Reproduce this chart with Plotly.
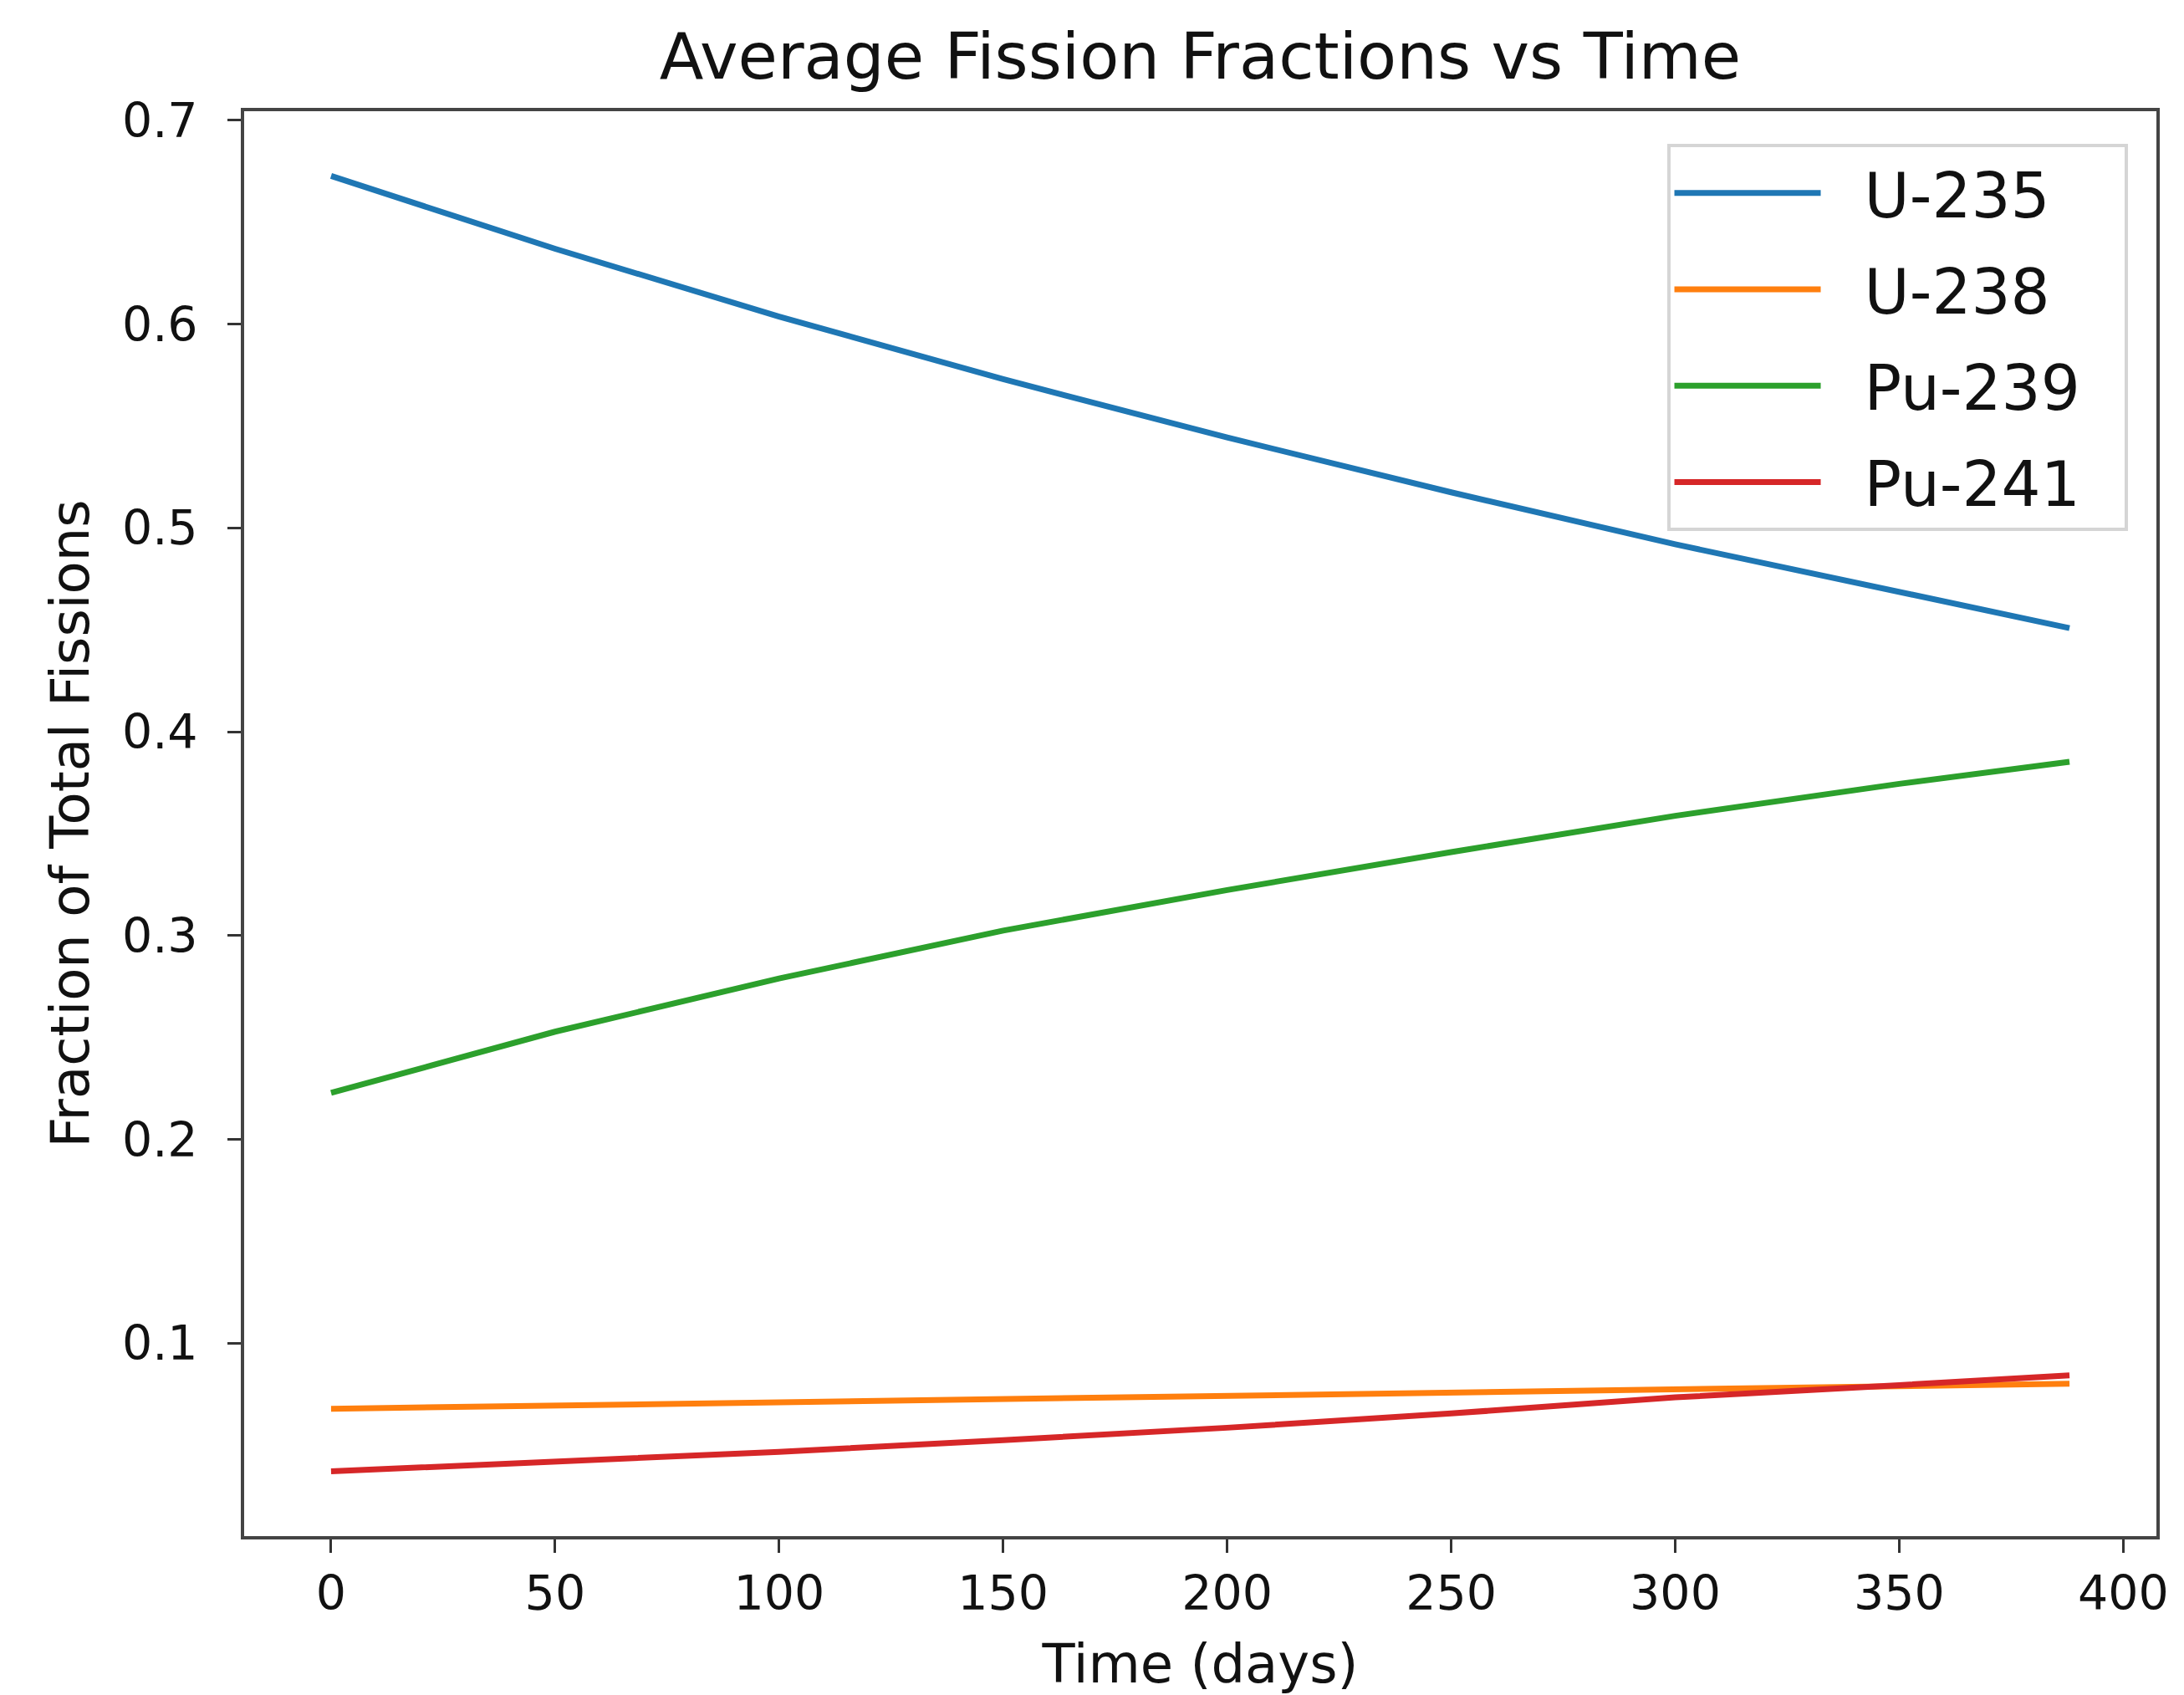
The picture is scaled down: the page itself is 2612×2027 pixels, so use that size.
import plotly.graph_objects as go

# ---- data ----
time_days = [0, 50, 100, 150, 200, 250, 300, 350, 388]
u235 = [0.6727, 0.6370, 0.6037, 0.5730, 0.5444, 0.5175, 0.4920, 0.4685, 0.4509]
u238 = [0.0679, 0.0695, 0.0710, 0.0725, 0.0740, 0.0755, 0.0770, 0.0787, 0.0802]
pu239 = [0.2229, 0.2529, 0.2790, 0.3025, 0.3224, 0.3410, 0.3588, 0.3745, 0.3853]
pu241 = [0.0372, 0.0418, 0.0468, 0.0525, 0.0586, 0.0656, 0.0735, 0.0795, 0.0843]

series_names = ["U-235", "U-238", "Pu-239", "Pu-241"]
series_values = [u235, u238, pu239, pu241]
series_colors = ["#1f77b4", "#ff7f0e", "#2ca02c", "#d62728"]

x_ticks = [0, 50, 100, 150, 200, 250, 300, 350, 400]
y_ticks = [0.1, 0.2, 0.3, 0.4, 0.5, 0.6, 0.7]

FONT = "DejaVu Sans"
NBSP = "\u00a0"

fig = go.Figure()
for name, vals, col in zip(series_names, series_values, series_colors):
    fig.add_trace(go.Scatter(x=time_days, y=vals, mode="lines",
                             name=NBSP * 2 + name + NBSP * 2,
                             legendgroup=name,
                             line=dict(color=col, width=7)))

# matplotlib-like 5% autoscale margins
xmin, xmax = min(time_days), max(time_days)
allv = [v for s in series_values for v in s]
ymin, ymax = min(allv), max(allv)
xpad = 0.05 * (xmax - xmin)
ypad = 0.05 * (ymax - ymin)

axis_common = dict(
    showline=True, linecolor="#444444", linewidth=4, mirror=True,
    showgrid=False, zeroline=False,
    ticks="outside", ticklen=16, tickwidth=3, tickcolor="#333333",
    tickfont=dict(family=FONT, size=57, color="#111111"),
)

fig.update_layout(
    width=2612, height=2027, autosize=False,
    margin=dict(l=292, r=33, t=133, b=190),
    paper_bgcolor="white", plot_bgcolor="white",
    font=dict(family=FONT, color="#111111"),
    title=dict(text="Average Fission Fractions vs Time",
               font=dict(family=FONT, size=77, color="#111111"),
               x=0.5, xref="paper", xanchor="center",
               y=1 - 67 / 2027, yref="container", yanchor="middle"),
    xaxis=dict(range=[xmin - xpad, xmax + xpad], tickvals=x_ticks,
               title=dict(text="Time (days)", font=dict(family=FONT, size=64, color="#111111"),
                          standoff=35),
               automargin=False, **axis_common),
    yaxis=dict(range=[ymin - ypad, ymax + ypad], tickvals=y_ticks, tickformat=".1f",
               title=dict(text="Fraction of Total Fissions",
                          font=dict(family=FONT, size=64, color="#111111"), standoff=20),
               ticklabelstandoff=24,
               automargin=False, **axis_common),
    legend=dict(x=0.744, y=0.977, xanchor="left", yanchor="top",
                bgcolor="white", bordercolor="#d5d5d5", borderwidth=4,
                font=dict(family=FONT, size=74, color="#111111"),
                itemwidth=175, tracegroupgap=16),
)

fig.write_html("out.html")
